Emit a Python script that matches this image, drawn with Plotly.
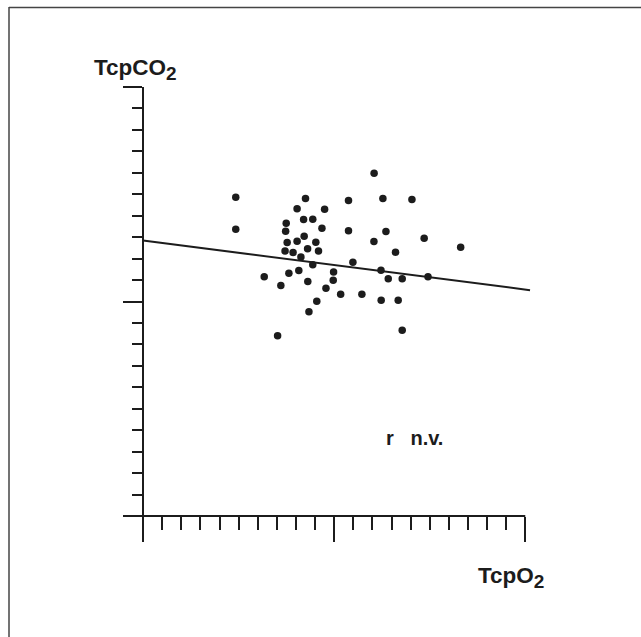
import plotly.graph_objects as go

# Data in axis tick units (20 unlabelled divisions on each axis)
tcpo2 = [4.85, 4.85, 8.50, 8.06, 9.50, 10.75, 7.49, 7.46, 8.40, 8.88, 9.36, 10.75, 8.43, 8.06,
         7.54, 9.04, 7.43, 7.85, 8.61, 9.18, 8.26, 8.88, 10.98, 6.34, 7.63, 8.15, 9.97, 7.21,
         8.62, 9.95, 9.57, 10.34, 11.45, 9.09, 8.68, 7.04, 12.09, 12.55, 14.07, 12.71, 12.08,
         14.71, 16.62, 13.21, 12.45, 12.83, 13.56, 14.91, 12.46, 13.35, 13.56]
tcpco2 = [14.86, 13.37, 14.80, 14.32, 14.30, 14.71, 13.65, 13.28, 13.82, 13.84, 13.42, 13.30, 13.04, 12.81,
          12.75, 12.76, 12.35, 12.28, 12.46, 12.36, 12.08, 11.71, 11.83, 11.15, 11.32, 11.45, 11.38, 10.75,
          10.93, 10.99, 10.62, 10.34, 10.34, 10.01, 9.52, 8.40, 15.98, 14.80, 14.76, 13.26, 12.80,
          12.95, 12.53, 12.30, 11.46, 11.06, 11.06, 11.15, 10.06, 10.06, 8.66]
fit_x = [0.0, 20.25]
fit_y = [12.84, 10.53]
tick_positions = list(range(0, 21))
major_ticks = [0, 10, 20]

SUB = "<sub><span style='font-size:19px'>2</span></sub>"
x_label = "<b>TcpO" + SUB + "</b>"
y_label = "<b>TcpCO" + SUB + "</b>"
note = "<b>r\u00a0\u00a0\u00a0n.v.</b>"

INK = "#1c1c1c"
W, H = 641, 637
L, T = 123, 87
PW, PH = 408, 452
XR = [-1.05, 20.3]
YR = [-1.07, 20]
FONT = "Liberation Sans, Arial, sans-serif"

def px(x):
    return (x - L) / PW

def py(y):
    return (T + PH - y) / PH

fig = go.Figure()
fig.add_trace(go.Scatter(x=fit_x, y=fit_y, mode="lines",
                         line=dict(color=INK, width=2), showlegend=False, hoverinfo="skip"))
fig.add_trace(go.Scatter(x=tcpo2, y=tcpco2, mode="markers",
                         marker=dict(color=INK, size=7.5, line=dict(width=0)), showlegend=False))

x0_paper = -XR[0] / (XR[1] - XR[0])
y0_paper = -YR[0] / (YR[1] - YR[0])

fig.update_layout(
    width=W, height=H,
    margin=dict(l=L, r=W - L - PW, t=T, b=H - T - PH, pad=0),
    paper_bgcolor="white", plot_bgcolor="white",
    xaxis=dict(range=XR, anchor="free", position=y0_paper, showline=False,
               showgrid=False, zeroline=False, showticklabels=False,
               ticks="outside", tickvals=major_ticks, ticklen=25, tickwidth=2, tickcolor=INK,
               minor=dict(ticks="outside", tickvals=tick_positions, ticklen=13, tickwidth=2,
                          tickcolor=INK, showgrid=False)),
    yaxis=dict(range=YR, anchor="free", position=x0_paper, showline=True, linecolor=INK, linewidth=2,
               showgrid=False, zeroline=False, showticklabels=False,
               ticks="outside", tickvals=major_ticks, ticklen=19, tickwidth=2, tickcolor=INK,
               minor=dict(ticks="outside", tickvals=tick_positions, ticklen=10, tickwidth=2,
                          tickcolor=INK, showgrid=False)),
    font=dict(family=FONT, color=INK),
)

# x axis line (runs from left overhang to the last tick)
fig.add_shape(type="line", xref="x", yref="y", x0=XR[0], x1=20, y0=0, y1=0,
              line=dict(color=INK, width=2))

# scanned page frame (left and top edges)
fig.add_shape(type="line", xref="paper", yref="paper", x0=px(9), x1=px(9), y0=py(7), y1=py(640),
              line=dict(color="#444", width=1.5))
fig.add_shape(type="line", xref="paper", yref="paper", x0=px(9), x1=px(645), y0=py(7.5), y1=py(7.5),
              line=dict(color="#444", width=1.5))

fig.add_annotation(text=y_label, xref="paper", yref="paper", x=px(92), y=py(69),
                   xanchor="left", yanchor="middle", showarrow=False,
                   font=dict(size=22.5, color=INK, family=FONT))
fig.add_annotation(text=x_label, xref="paper", yref="paper", x=px(476), y=py(577),
                   xanchor="left", yanchor="middle", showarrow=False,
                   font=dict(size=22.5, color=INK, family=FONT))
fig.add_annotation(text=note, xref="paper", yref="paper", x=px(384), y=py(438),
                   xanchor="left", yanchor="middle", showarrow=False,
                   font=dict(size=20, color=INK, family=FONT))

fig.write_html("out.html", config={"displayModeBar": False},
               post_script="document.body.style.margin='0';document.body.style.overflow='hidden';")
